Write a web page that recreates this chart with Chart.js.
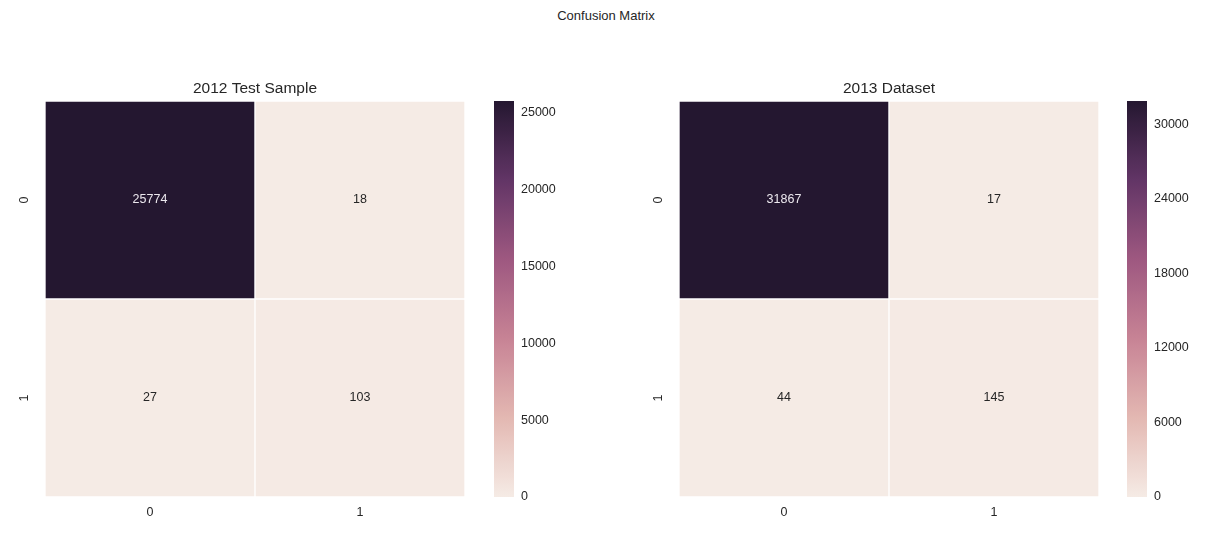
<!DOCTYPE html>
<html>
<head>
<meta charset="utf-8">
<title>Confusion Matrix</title>
<script src="https://cdn.jsdelivr.net/npm/chart.js@4/dist/chart.umd.min.js"></script>
<style>
  body { margin: 0; background: #fff; }
  #page { position: relative; width: 1207px; height: 533px; font-family: "Liberation Sans", Arial, sans-serif; }
  #suptitle { position: absolute; left: 0; top: 9px; width: 1212px; text-align: center; font-size: 13px; line-height: 14px; color: #262626; }
  .box { position: absolute; top: 0; height: 533px; }
</style>
</head>
<body>
<div id="page">
  <div id="suptitle">Confusion Matrix</div>
  <div class="box" style="left:0px;width:480px"><canvas id="heat2012"></canvas></div>
  <div class="box" style="left:480px;width:120px"><canvas id="bar2012"></canvas></div>
  <div class="box" style="left:634px;width:480px"><canvas id="heat2013"></canvas></div>
  <div class="box" style="left:1114px;width:93px"><canvas id="bar2013"></canvas></div>
</div>

<script>
// data
const xLabels = ['0', '1'];
const yLabels = ['0', '1'];
const sample2012Row0 = [25774, 18];
const sample2012Row1 = [27, 103];
const dataset2013Row0 = [31867, 17];
const dataset2013Row1 = [44, 145];
const barTicks2012 = [0, 5000, 10000, 15000, 20000, 25000];
const barTicks2013 = [0, 6000, 12000, 18000, 24000, 30000];

const FONT = '"Liberation Sans", Arial, sans-serif';
const TEXT = '#262626';

// colormap stops (light -> dark), picked from the colorbar
const cmapStops = [
  [0.0, [245, 235, 229]],
  [0.2, [227, 184, 178]],
  [0.4, [199, 131, 149]],
  [0.6, [158, 88, 128]],
  [0.8, [98, 53, 102]],
  [1.0, [36, 23, 48]]
];

function cmap(t) {
  t = Math.max(0, Math.min(1, t));
  for (let i = 1; i < cmapStops.length; i++) {
    if (t <= cmapStops[i][0]) {
      const [t0, c0] = cmapStops[i - 1];
      const [t1, c1] = cmapStops[i];
      const f = (t - t0) / (t1 - t0);
      return c0.map((v, k) => Math.round(v + (c1[k] - v) * f));
    }
  }
  return cmapStops[cmapStops.length - 1][1];
}
function rgb(c) { return 'rgb(' + c.join(',') + ')'; }
function lum(c) { return (0.2126 * c[0] + 0.7152 * c[1] + 0.0722 * c[2]) / 255; }

// numbers inside the cells
const cellText = {
  id: 'cellText',
  afterDatasetsDraw(chart) {
    const ctx = chart.ctx;
    ctx.save();
    ctx.font = '12.5px ' + FONT;
    ctx.textAlign = 'center';
    ctx.textBaseline = 'middle';
    chart.data.datasets.forEach((ds, d) => {
      chart.getDatasetMeta(d).data.forEach((bar, i) => {
        const c = ds.cellColors[i];
        ctx.fillStyle = lum(c) > 0.408 ? TEXT : '#ece8ee';
        ctx.fillText(String(ds.values[i]), bar.x, (bar.y + bar.base) / 2);
      });
    });
    ctx.restore();
  }
};

// axes title centred over the plot area (not the whole canvas)
const axTitle = {
  id: 'axTitle',
  afterDraw(chart, args, opts) {
    const a = chart.chartArea;
    const ctx = chart.ctx;
    ctx.save();
    ctx.font = '15.5px ' + FONT;
    ctx.fillStyle = TEXT;
    ctx.textAlign = 'center';
    ctx.textBaseline = 'middle';
    ctx.fillText(opts.text, (a.left + a.right) / 2, a.top - 12);
    ctx.restore();
  }
};

function makeHeatmap(id, title, rows) {
  const all = rows.flat();
  const vmin = Math.min(...all), vmax = Math.max(...all);
  const datasets = rows.map((row, r) => {
    const colors = row.map(v => cmap((v - vmin) / (vmax - vmin)));
    return {
      data: xLabels.map(() => [r, r + 1]),
      values: row,
      cellColors: colors,
      backgroundColor: colors.map(rgb),
      borderColor: '#ffffff',
      borderWidth: 1,
      borderSkipped: false,
      grouped: false,
      categoryPercentage: 1,
      barPercentage: 1
    };
  });
  new Chart(document.getElementById(id), {
    type: 'bar',
    data: { labels: xLabels, datasets: datasets },
    options: {
      responsive: true,
      maintainAspectRatio: false,
      animation: false,
      layout: { padding: { left: 0, right: 15, top: 101, bottom: 0 } },
      plugins: {
        legend: { display: false },
        tooltip: { enabled: false },
        title: { display: false },
        axTitle: { text: title }
      },
      scales: {
        x: {
          type: 'category',
          grid: { display: false, drawTicks: false },
          border: { display: false },
          ticks: { color: TEXT, font: { family: FONT, size: 12.5 }, padding: 8, maxRotation: 0 },
          afterFit(s) { s.height = 36; }
        },
        y: {
          type: 'linear', min: 0, max: yLabels.length, reverse: true,
          grid: { display: false, drawTicks: false },
          border: { display: false },
          ticks: {
            color: TEXT, font: { family: FONT, size: 12.5 }, padding: 17,
            minRotation: 90, maxRotation: 90, crossAlign: 'center',
            callback: (v) => yLabels[Math.floor(v)]
          },
          afterBuildTicks(s) { s.ticks = yLabels.map((_, i) => ({ value: i + 0.5 })); },
          afterFit(s) { s.width = 45; }
        }
      }
    },
    plugins: [cellText, axTitle]
  });
}

function makeColorbar(id, rows, ticks, padLeft, axisWidth) {
  const vmax = Math.max(...rows.flat());
  new Chart(document.getElementById(id), {
    type: 'bar',
    data: {
      labels: [''],
      datasets: [{
        data: [[0, vmax]],
        categoryPercentage: 1,
        barPercentage: 1,
        borderWidth: 0,
        backgroundColor(ctx) {
          const area = ctx.chart.chartArea;
          if (!area) return 'transparent';
          const g = ctx.chart.ctx.createLinearGradient(0, area.bottom, 0, area.top);
          for (let i = 0; i <= 40; i++) g.addColorStop(i / 40, rgb(cmap(i / 40)));
          return g;
        }
      }]
    },
    options: {
      responsive: true,
      maintainAspectRatio: false,
      animation: false,
      layout: { padding: { left: padLeft, right: 0, top: 101, bottom: 36 } },
      plugins: { legend: { display: false }, tooltip: { enabled: false } },
      scales: {
        x: { display: false },
        y: {
          position: 'right', min: 0, max: vmax,
          grid: { display: false, drawTicks: false },
          border: { display: false },
          ticks: {
            color: TEXT, font: { family: FONT, size: 12.5 }, padding: 7,
            callback: (v) => String(v)
          },
          afterBuildTicks(s) { s.ticks = ticks.map(v => ({ value: v })); },
          afterFit(s) { s.width = axisWidth; }
        }
      }
    }
  });
}

makeHeatmap('heat2012', '2012 Test Sample', [sample2012Row0, sample2012Row1]);
makeColorbar('bar2012', [sample2012Row0, sample2012Row1], barTicks2012, 14, 86);
makeHeatmap('heat2013', '2013 Dataset', [dataset2013Row0, dataset2013Row1]);
makeColorbar('bar2013', [dataset2013Row0, dataset2013Row1], barTicks2013, 13, 60);
</script>
</body>
</html>
